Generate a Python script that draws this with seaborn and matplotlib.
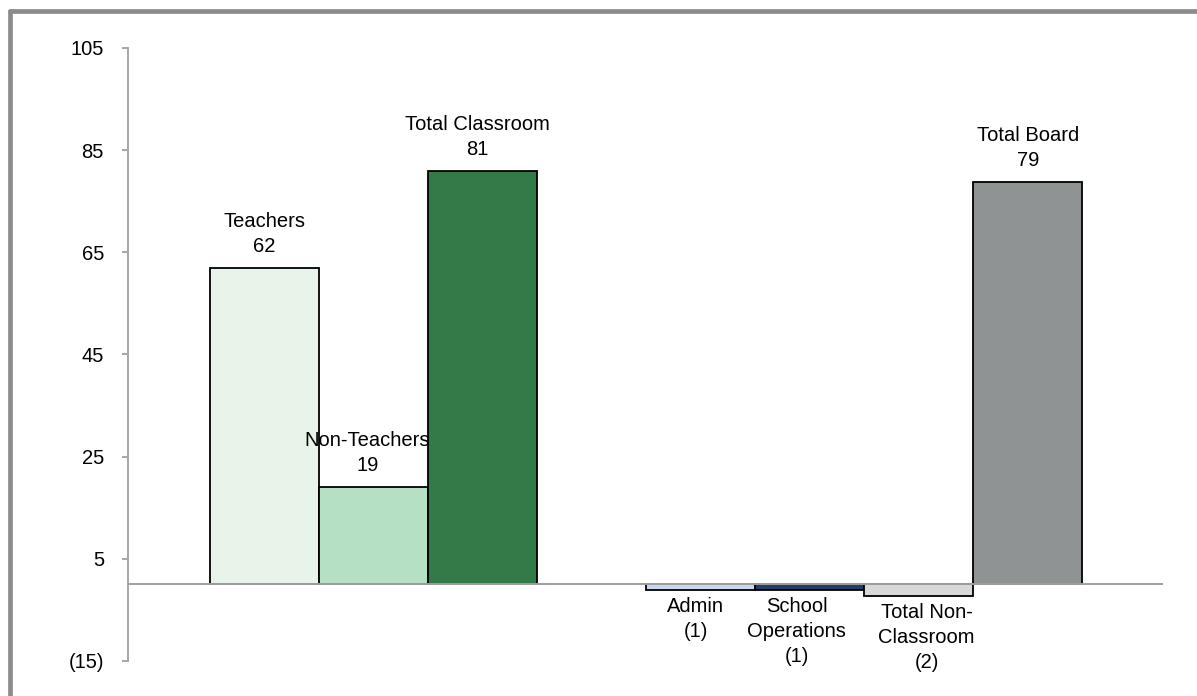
import matplotlib
matplotlib.use("Agg")
import matplotlib.pyplot as plt
import seaborn as sns
import pandas as pd
from matplotlib.lines import Line2D

categories = ["Teachers", "Non-Teachers", "Total Classroom", "Admin",
              "School Operations", "Total Non-Classroom", "Total Board"]
values = [61.9, 19.1, 81.0, -1.15, -1.05, -2.2, 78.8]
value_labels = ["62", "19", "81", "(1)", "(1)", "(2)", "79"]
label_names = ["Teachers", "Non-Teachers", "Total Classroom", "Admin",
               "School\nOperations", "Total Non-\nClassroom", "Total Board"]
order = ["Teachers", "Non-Teachers", "Total Classroom", " ", "Admin",
         "School Operations", "Total Non-Classroom", "Total Board"]
colors = ["#E8F3EA", "#B5E0C3", "#327A47", "#C6D9F0",
          "#1F3F66", "#D9D9D9", "#8F9393"]
y_ticks = [-15, 5, 25, 45, 65, 85, 105]
label_dx = [0, -6, -5, -5, -13, 8, 0]

sns.set_theme(style="white")
plt.rcParams["font.family"] = ["Liberation Sans", "DejaVu Sans"]
plt.rcParams["text.color"] = "black"

df = pd.DataFrame({"cat": categories, "val": values})
fig = plt.figure(figsize=(11.97, 6.96), dpi=100)
ax = fig.add_axes([128 / 1197, 1 - 661 / 696, (1163 - 128) / 1197, (661 - 48) / 696])

sns.barplot(data=df, x="cat", y="val", hue="cat", order=order,
            hue_order=categories, palette=dict(zip(categories, colors)),
            width=1.0, edgecolor="black", linewidth=1.3, legend=False,
            saturation=1, ax=ax)

ax.set_ylim(-15, 105)
ax.set_xlim(-1.25, 8.24)
ax.set_yticks(y_ticks)
ax.set_yticklabels([f"({abs(v)})" if v < 0 else f"{v}" for v in y_ticks])
ax.tick_params(axis="y", left=True, length=4.3, width=1.4, color="#A6A6A6",
               pad=13, labelsize=14.5, labelcolor="black")
ax.set_xticks([])
ax.set_xlabel("")
ax.set_ylabel("")
for s in ["top", "right", "bottom"]:
    ax.spines[s].set_visible(False)
ax.spines["left"].set_color("#A6A6A6")
ax.spines["left"].set_linewidth(1.4)
ax.axhline(0, color="#A0A0A0", lw=1.4, zorder=5)

for cat, val, name, vl, dx in zip(categories, values, label_names, value_labels, label_dx):
    if val >= 0:
        ax.annotate(f"{name}\n{vl}", xy=(order.index(cat), val),
                    xytext=(dx, 12), textcoords="offset pixels",
                    ha="center", va="bottom", fontsize=14.5, zorder=6,
                    linespacing=1.4, color="black")
    else:
        ax.annotate(f"{name}\n{vl}", xy=(order.index(cat), val),
                    xytext=(dx, -7), textcoords="offset pixels",
                    ha="center", va="top", fontsize=14.5, zorder=6,
                    linespacing=1.4, color="black")

# outer frame (top and left visible)
fig.add_artist(Line2D([10 / 1197, 1.0], [1 - 10.5 / 696, 1 - 10.5 / 696],
                      transform=fig.transFigure, color="#8C8C8C", lw=3.4))
fig.add_artist(Line2D([10 / 1197, 10 / 1197], [0, 1 - 10.5 / 696],
                      transform=fig.transFigure, color="#8C8C8C", lw=3.4))

fig.savefig("out.png", dpi=100)
